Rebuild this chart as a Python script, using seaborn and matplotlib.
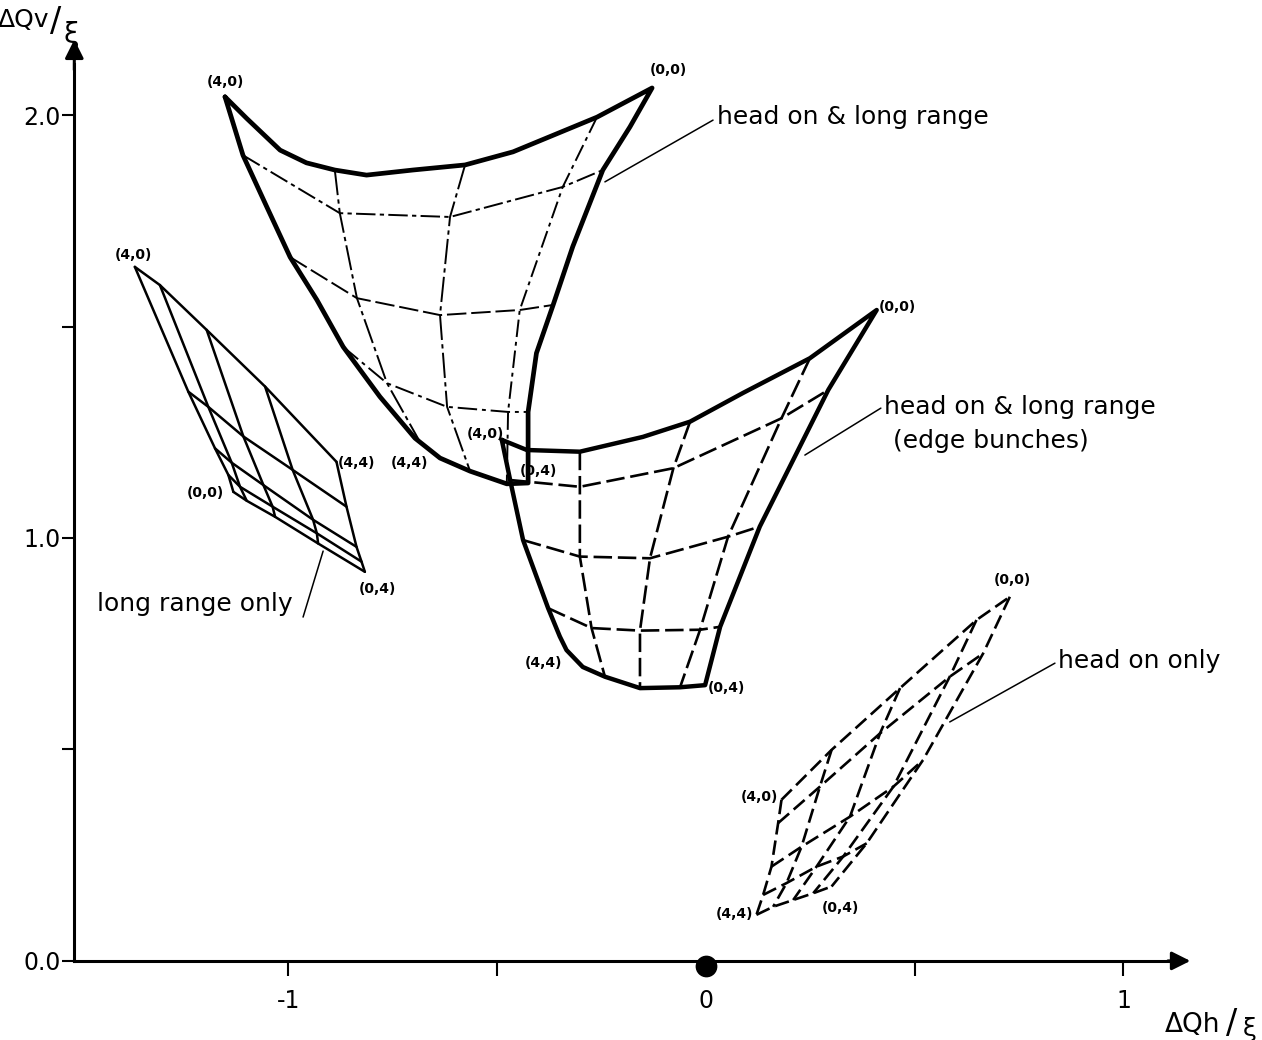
import numpy as np
import matplotlib
matplotlib.use("Agg")
import matplotlib.pyplot as plt
import seaborn as sns

sns.set_style("white")
plt.rcParams['font.family'] = ['DejaVu Sans']
plt.rcParams['text.color'] = 'black'
plt.rcParams['xtick.color'] = 'black'
plt.rcParams['ytick.color'] = 'black'
plt.rcParams['axes.labelcolor'] = 'black'

# Tune footprints: node[ay][k] with k running over ax = 4, 3, 2, 1, 0 (amplitudes in sigma)
# head on & long range
holr_x = [[-1.152, -0.889, -0.577, -0.261, -0.129],
          [-1.109, -0.877, -0.613, -0.343, -0.247],
          [-0.996, -0.836, -0.637, -0.446, -0.366],
          [-0.869, -0.764, -0.620, -0.474, -0.426],
          [-0.697, -0.685, -0.565, -0.477, -0.426]]
holr_y = [[2.043, 1.870, 1.882, 1.995, 2.064],
          [1.905, 1.768, 1.759, 1.830, 1.870],
          [1.664, 1.567, 1.527, 1.539, 1.551],
          [1.452, 1.366, 1.310, 1.298, 1.298],
          [1.236, 1.227, 1.158, 1.128, 1.130]]
holr_outline_x = [-1.152, -1.100, -1.020, -0.957, -0.889, -0.813, -0.702, -0.577, -0.462, -0.261,
                  -0.129, -0.182, -0.247, -0.319, -0.366, -0.406, -0.426, -0.426, -0.477, -0.565,
                  -0.637, -0.697, -0.781, -0.869, -0.932, -0.996, -1.052, -1.109, -1.152]
holr_outline_y = [2.043, 1.992, 1.917, 1.887, 1.870, 1.858, 1.870, 1.882, 1.913, 1.995,
                  2.064, 1.972, 1.870, 1.689, 1.551, 1.437, 1.298, 1.130, 1.128, 1.158,
                  1.189, 1.236, 1.334, 1.452, 1.563, 1.664, 1.783, 1.905, 2.043]

# head on & long range, edge bunches
edge_x = [[-0.489, -0.302, -0.038, 0.249, 0.409],
          [-0.469, -0.302, -0.078, 0.181, 0.293],
          [-0.438, -0.302, -0.134, 0.053, 0.129],
          [-0.378, -0.274, -0.158, -0.014, 0.034],
          [-0.350, -0.242, -0.158, -0.062, -0.002]]
edge_y = [[1.232, 1.204, 1.275, 1.425, 1.539],
          [1.137, 1.121, 1.165, 1.283, 1.350],
          [0.995, 0.956, 0.952, 1.003, 1.027],
          [0.834, 0.787, 0.781, 0.783, 0.790],
          [0.767, 0.672, 0.645, 0.647, 0.652]]
edge_outline_x = [-0.489, -0.429, -0.302, -0.151, -0.038, 0.089, 0.249, 0.409, 0.293, 0.129, 0.034,
                  -0.002, -0.062, -0.158, -0.242, -0.295, -0.334, -0.350, -0.378, -0.438, -0.469, -0.489]
edge_outline_y = [1.232, 1.208, 1.204, 1.239, 1.275, 1.343, 1.425, 1.539, 1.350, 1.027, 0.790,
                  0.652, 0.647, 0.645, 0.672, 0.695, 0.735, 0.767, 0.834, 0.995, 1.137, 1.232]

# long range only
lr_x = [[-1.368, -1.240, -1.176, -1.144, -1.132],
        [-1.308, -1.192, -1.136, -1.116, -1.100],
        [-1.196, -1.108, -1.060, -1.038, -1.032],
        [-1.056, -0.990, -0.941, -0.932, -0.929],
        [-0.885, -0.861, -0.837, -0.825, -0.817]]
lr_y = [[1.641, 1.346, 1.212, 1.149, 1.109],
        [1.598, 1.310, 1.178, 1.121, 1.088],
        [1.492, 1.240, 1.125, 1.074, 1.050],
        [1.358, 1.161, 1.043, 1.011, 0.987],
        [1.180, 1.074, 0.979, 0.944, 0.920]]

# head on only
ho_x = [[0.181, 0.301, 0.465, 0.648, 0.728],
        [0.173, 0.273, 0.417, 0.584, 0.664],
        [0.157, 0.229, 0.345, 0.449, 0.520],
        [0.137, 0.193, 0.265, 0.329, 0.385],
        [0.121, 0.161, 0.209, 0.257, 0.301]]
ho_y = [[0.381, 0.499, 0.645, 0.806, 0.861],
        [0.326, 0.412, 0.538, 0.672, 0.727],
        [0.223, 0.270, 0.341, 0.412, 0.475],
        [0.156, 0.184, 0.223, 0.247, 0.278],
        [0.109, 0.128, 0.144, 0.160, 0.176]]

x_ticks = [-1, 0, 1]
x_ticklabels = ["-1", "0", "1"]
x_minor = [-0.5, 0.5]
y_ticks = [0.0, 1.0, 2.0]
y_ticklabels = ["0.0", "1.0", "2.0"]
y_minor = [0.5, 1.5]

fig = plt.figure(figsize=(12.62, 10.40), dpi=100)
ax = fig.add_axes([0, 0, 1, 1])


def draw(xs, ys, lw, ls):
    sns.lineplot(x=list(xs), y=list(ys), sort=False, estimator=None, color="k",
                 linewidth=lw, linestyle=ls, dash_capstyle="butt",
                 solid_joinstyle="round", legend=False, ax=ax)


def grid(gx, gy, rows, cols, lw, row_ls, col_ls):
    gx = np.asarray(gx)
    gy = np.asarray(gy)
    for r in rows:
        draw(gx[r, :], gy[r, :], lw, row_ls[r])
    for c in cols:
        draw(gx[:, c], gy[:, c], lw, col_ls[c])


# head on & long range
dd = (0, (13, 2.2, 2.2, 2.2))
grid(holr_x, holr_y, [1, 2, 3], [1, 2, 3], 1.4,
     {1: (0, (10, 2.2, 2.2, 2.2)), 2: (0, (10, 2.5)), 3: (0, (10, 2.5, 2, 2.5))},
     {1: dd, 2: dd, 3: (0, (9, 2.5, 2, 2.5))})
draw(holr_outline_x, holr_outline_y, 3.4, "-")

# edge bunches
grid(edge_x, edge_y, [1, 2, 3], [1, 2, 3], 1.9,
     {r: (0, (7, 2.2)) for r in range(5)}, {c: (0, (7, 2.2)) for c in range(5)})
draw(edge_outline_x, edge_outline_y, 3.2, "-")

# long range only
grid(lr_x, lr_y, range(5), range(5), 1.8,
     {r: "-" for r in range(5)}, {c: "-" for c in range(5)})

# head on only
grid(ho_x, ho_y, range(5), range(5), 1.9,
     {r: (0, (5.5, 2.3)) for r in range(5)}, {c: (0, (5.5, 2.3)) for c in range(5)})

# corner labels
corner_kw = dict(fontsize=10, fontweight="bold", ha="center", va="center", color="k")
for (lx, ly, s) in [(-1.150, 2.078, "(4,0)"), (-0.091, 2.106, "(0,0)"),
                    (-0.711, 1.177, "(4,4)"), (-0.402, 1.158, "(0,4)"),
                    (-0.527, 1.246, "(4,0)"), (0.458, 1.546, "(0,0)"),
                    (-0.390, 0.704, "(4,4)"), (0.050, 0.645, "(0,4)"),
                    (-1.372, 1.669, "(4,0)"), (-0.836, 1.177, "(4,4)"),
                    (-1.200, 1.106, "(0,0)"), (-0.788, 0.879, "(0,4)"),
                    (0.735, 0.901, "(0,0)"), (0.129, 0.388, "(4,0)"),
                    (0.069, 0.111, "(4,4)"), (0.323, 0.125, "(0,4)")]:
    ax.text(lx, ly, s, **corner_kw)

# captions with leader lines
cap_kw = dict(fontsize=18, va="center", ha="left", color="k")
ax.text(0.026, 1.995, "head on & long range", **cap_kw)
ax.plot([0.017, -0.242], [1.988, 1.842], color="k", lw=1.1)
ax.text(0.426, 1.310, "head on & long range", **cap_kw)
ax.text(0.683, 1.229, "(edge bunches)", fontsize=18, va="center", ha="center", color="k")
ax.plot([0.419, 0.237], [1.307, 1.196], color="k", lw=1.1)
ax.text(-1.459, 0.844, "long range only", **cap_kw)
ax.plot([-0.965, -0.917], [0.813, 0.969], color="k", lw=1.1)
ax.text(0.843, 0.709, "head on only", **cap_kw)
ax.plot([0.836, 0.584], [0.704, 0.565], color="k", lw=1.1)

# origin marker
sns.scatterplot(x=[0.0], y=[-0.012], s=210, color="k", edgecolor="k", ax=ax, legend=False, zorder=5)

# axes drawn as spines through the data origin
for side in ("top", "right"):
    ax.spines[side].set_visible(False)
ax.spines["left"].set_position(("data", -1.513))
ax.spines["bottom"].set_position(("data", 0.0))
ax.spines["left"].set_bounds(0.0, 2.12)
ax.spines["bottom"].set_bounds(-1.513, 1.12)
for side in ("left", "bottom"):
    ax.spines[side].set_linewidth(2.2)
    ax.spines[side].set_color("k")

ax.set_xticks(x_ticks)
ax.set_xticklabels(x_ticklabels)
ax.set_xticks(x_minor, minor=True)
ax.set_yticks(y_ticks)
ax.set_yticklabels(y_ticklabels)
ax.set_yticks(y_minor, minor=True)
ax.tick_params(axis="x", which="both", direction="out", length=11, width=1.5,
               pad=9, labelsize=17, bottom=True, colors="k")
ax.tick_params(axis="y", which="both", direction="out", length=9, width=1.5,
               pad=1, labelsize=17, left=True, colors="k")

ax.annotate("", xy=(-1.513, 2.185), xytext=(-1.513, 2.10),
            arrowprops=dict(arrowstyle="-|>", color="k", lw=2.2, mutation_scale=28))
ax.annotate("", xy=(1.167, 0.0), xytext=(1.10, 0.0),
            arrowprops=dict(arrowstyle="-|>", color="k", lw=2.2, mutation_scale=28))

# axis titles
ax.text(-1.697, 2.225, "ΔQv", fontsize=18, ha="left", va="center", color="k")
ax.text(-1.572, 2.220, "/", fontsize=24, ha="left", va="center", color="k")
ax.text(-1.538, 2.190, "ξ", fontsize=20, ha="left", va="center", color="k")
ax.text(1.099, -0.152, "ΔQh", fontsize=19, ha="left", va="center", color="k")
ax.text(1.246, -0.147, "/", fontsize=24, ha="left", va="center", color="k")
ax.text(1.286, -0.160, "ξ", fontsize=18, ha="left", va="center", color="k")

ax.set_xlabel("")
ax.set_ylabel("")
ax.set_xlim(-1.691, 1.332)
ax.set_ylim(-0.187, 2.272)
ax.set_facecolor("white")
fig.patch.set_facecolor("white")

fig.savefig("out.png", dpi=100, facecolor="white")
